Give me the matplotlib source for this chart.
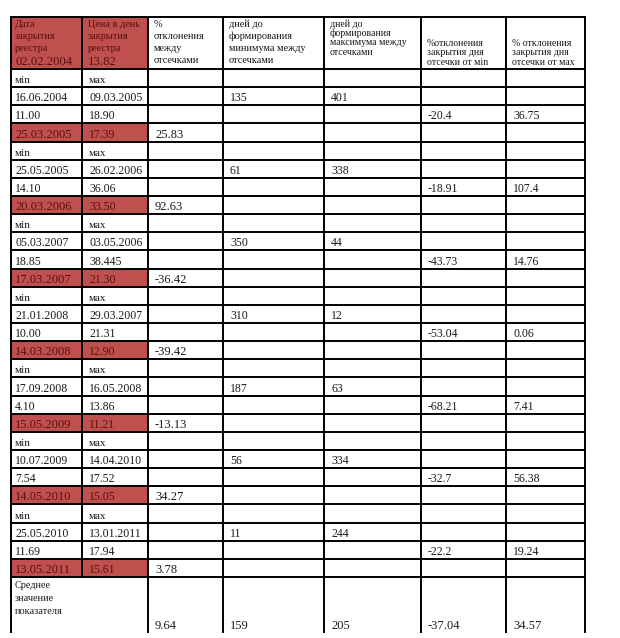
import numpy as np
import matplotlib
matplotlib.use("Agg")
import matplotlib.pyplot as plt
from matplotlib.patches import Rectangle

# table contents
first_date = "02.02.2004"
first_price = "13.82"
dates_min = ["16.06.2004", "25.05.2005", "05.03.2007", "21.01.2008", "17.09.2008", "10.07.2009", "25.05.2010"]
dates_max = ["09.03.2005", "26.02.2006", "03.05.2006", "29.03.2007", "16.05.2008", "14.04.2010", "13.01.2011"]
price_min = ["11.00", "14.10", "18.85", "10.00", "4.10", "7.54", "11.69"]
price_max = ["18.90", "36.06", "38.445", "21.31", "13.86", "17.52", "17.94"]
cut_dates = ["25.03.2005", "20.03.2006", "17.03.2007", "14.03.2008", "15.05.2009", "14.05.2010", "13.05.2011"]
cut_prices = ["17.39", "33.50", "21.30", "12.90", "11.21", "15.05", "15.61"]
pct_between = ["25.83", "92.63", "-36.42", "-39.42", "-13.13", "34.27", "3.78"]
days_to_min = ["135", "61", "350", "310", "187", "56", "11"]
days_to_max = ["401", "338", "44", "12", "63", "334", "244"]
pct_from_min = ["-20.4", "-18.91", "-43.73", "-53.04", "-68.21", "-32.7", "-22.2"]
pct_from_max = ["36.75", "107.4", "14.76", "0.06", "7.41", "56.38", "19.24"]
averages = ["9.64", "159", "205", "-37.04", "34.57"]

headers = [
    ["Дата", "закрытия", "реестра"],
    ["Цена в день", "закрытия", "реестра"],
    ["%", "отклонения", "между", "отсечками"],
    ["дней до", "формирования", "минимума между", "отсечками"],
    ["дней до", "формирования", "максимума между", "отсечками"],
    ["%отклонения", "закрытия дня", "отсечки от мin"],
    ["% отклонения", "закрытия дня", "отсечки от мах"],
]

RED = "#c0504d"
RED_TXT = "#581010"
TXT = "#1a1a1a"
FONT = "Liberation Serif"

fig = plt.figure(figsize=(6.2, 6.38), dpi=100)
ax = fig.add_axes([0, 0, 1, 1])
ax.set_xlim(0, 620)
ax.set_ylim(638, 0)
ax.axis("off")

cols = [11, 82, 148, 223, 324, 421, 506, 585]
top, head_bot, table_bot = 17, 69, 632
rows = np.linspace(head_bot, 577, 7 * 4 + 1)


def put(col, ybase, s, color=TXT, size=8.5, pad=7):
    ax.text(cols[col] + pad, ybase, s, fontsize=size, family=FONT,
            color=color, va="baseline", ha="left")


# red fills
ax.add_patch(Rectangle((cols[0], top), cols[2] - cols[0], head_bot - top,
                       color=RED, lw=0))
for b in range(7):
    y0, y1 = rows[b * 4 + 3], rows[b * 4 + 4]
    ax.add_patch(Rectangle((cols[0], y0), cols[2] - cols[0], y1 - y0,
                           color=RED, lw=0))

# header text
for i, lines in enumerate(headers):
    if i in (0, 1, 2, 3):
        bases = [27, 39, 51, 63]
    elif i == 4:
        bases = [27, 36, 45, 55]
    else:
        bases = [46, 55, 65]
    col_txt = RED_TXT if i < 2 else TXT
    size = 7.4 if i < 4 else 7.1
    for ln, yb in zip(lines, bases):
        put(i, yb, ln, color=col_txt, size=size, pad=4 if i == 0 else 6)
put(0, 65, first_date, color=RED_TXT, size=9.2, pad=4)
put(1, 65, first_price, color=RED_TXT, size=9.2, pad=6)

# body
for b in range(7):
    r = b * 4
    yb = lambda k: rows[r + k + 1] - 4
    put(0, yb(0), "мin", size=8, pad=4)
    put(1, yb(0), "мах", size=8)
    put(0, yb(1), dates_min[b], pad=4)
    put(1, yb(1), dates_max[b])
    put(3, yb(1), days_to_min[b])
    put(4, yb(1), days_to_max[b])
    put(0, yb(2), price_min[b], pad=4)
    put(1, yb(2), price_max[b])
    put(5, yb(2), pct_from_min[b])
    put(6, yb(2), pct_from_max[b])
    put(0, yb(3), cut_dates[b], color=RED_TXT, size=9, pad=4)
    put(1, yb(3), cut_prices[b], color=RED_TXT)
    put(2, yb(3), pct_between[b], size=9)

# average row
for ln, yb in zip(["Среднее", "значение", "показателя"], [588, 601, 614]):
    put(0, yb, ln, size=7.4, pad=4)
for k, v in enumerate(averages):
    put(k + 2, 629, v, size=9)

# grid lines
lw = 1.4
ax.plot([cols[0], cols[-1]], [top, top], color="black", lw=lw)
for y in rows:
    ax.plot([cols[0], cols[-1]], [y, y], color="black", lw=lw)
for i, x in enumerate(cols):
    if i == 1:
        ax.plot([x, x], [top, rows[-1]], color="black", lw=lw)
    else:
        ax.plot([x, x], [top, table_bot], color="black", lw=lw)

fig.savefig("out.png", dpi=100, facecolor="white")
